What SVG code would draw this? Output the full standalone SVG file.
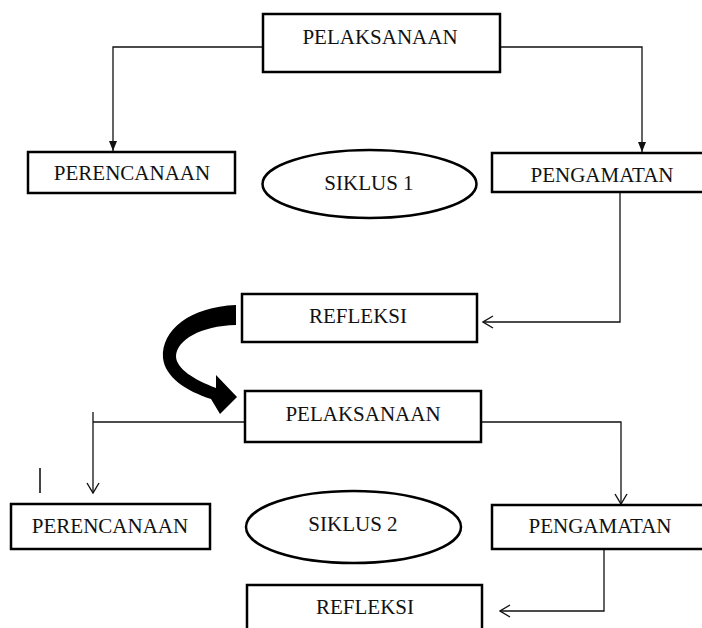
<svg xmlns="http://www.w3.org/2000/svg" width="702" height="628" viewBox="0 0 702 628">
<style>
.box{fill:#fff;stroke:#000;stroke-width:2.5}
.ell{fill:#fff;stroke:#000;stroke-width:2.5}
.lbl{font-family:"Liberation Serif","Times New Roman",serif;font-size:21px;fill:#111;text-anchor:middle}
.con{fill:none;stroke:#111;stroke-width:1.3}
</style>
<defs>
<marker id="fill" markerUnits="userSpaceOnUse" markerWidth="10" markerHeight="8" refX="10" refY="4" orient="auto" viewBox="0 0 10 8">
<path d="M0,0 L10,4 L0,8 Z" fill="#111"/>
</marker>
<marker id="open" markerUnits="userSpaceOnUse" markerWidth="12" markerHeight="14" refX="11" refY="7" orient="auto" viewBox="0 0 12 14">
<path d="M1,1 L11,7 L1,13" fill="none" stroke="#111" stroke-width="1.4"/>
</marker>
</defs>
<g id="connectors">
<path class="con" d="M263,47 H113 V151" marker-end="url(#fill)"/>
<path class="con" d="M500,47 H642 V152" marker-end="url(#fill)"/>
<path class="con" d="M620,192 V322 H483" marker-end="url(#open)"/>
<path class="con" d="M245,422 H93"/>
<path class="con" d="M93,412 V493" marker-end="url(#open)"/>
<path class="con" d="M481,422 H621 V504" marker-end="url(#open)"/>
<path class="con" d="M604,549 V611 H500" marker-end="url(#open)"/>
<line x1="40" y1="468" x2="40" y2="493" stroke="#444" stroke-width="2"/>
<path d="M236,305 C190,307 161,330 163,358 C165,377 186,391 211,399 L220,414 L237,397 L216,375 L216,388 C195,380 176,369 176,356 C177,340 200,326 236,325 Z" fill="#000"/>
</g>
<g id="pelaksanaan1"><rect class="box" x="263" y="14" width="237" height="58"/><text class="lbl" x="380" y="44">PELAKSANAAN</text></g>
<g id="perencanaan1"><rect class="box" x="28" y="152" width="207" height="41"/><text class="lbl" x="132" y="180">PERENCANAAN</text></g>
<g id="siklus1"><ellipse class="ell" cx="369.5" cy="184" rx="107" ry="34"/><text class="lbl" x="369" y="190">SIKLUS 1</text></g>
<g id="pengamatan1"><rect class="box" x="492" y="153" width="220" height="39"/><text class="lbl" x="602" y="182">PENGAMATAN</text></g>
<g id="refleksi1"><rect class="box" x="242" y="294" width="235" height="48"/><text class="lbl" x="358" y="323">REFLEKSI</text></g>
<g id="pelaksanaan2"><rect class="box" x="245" y="391" width="236" height="51"/><text class="lbl" x="363" y="421">PELAKSANAAN</text></g>
<g id="perencanaan2"><rect class="box" x="11" y="504" width="199" height="45"/><text class="lbl" x="110" y="533">PERENCANAAN</text></g>
<g id="siklus2"><ellipse class="ell" cx="353.5" cy="527" rx="107.5" ry="36"/><text class="lbl" x="353" y="531">SIKLUS 2</text></g>
<g id="pengamatan2"><rect class="box" x="492" y="505" width="220" height="44"/><text class="lbl" x="600" y="533">PENGAMATAN</text></g>
<g id="refleksi2"><rect class="box" x="247" y="585" width="235" height="60"/><text class="lbl" x="365" y="614">REFLEKSI</text></g>
</svg>
